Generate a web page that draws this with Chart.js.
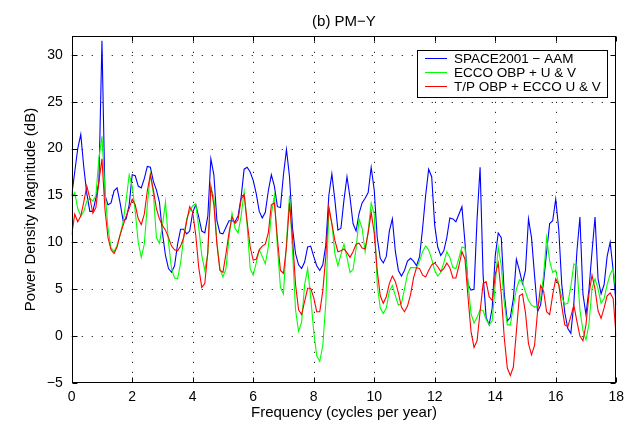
<!DOCTYPE html>
<html>
<head>
<meta charset="utf-8">
<script src="https://cdn.jsdelivr.net/npm/chart.js@4.4.0/dist/chart.umd.min.js"></script>
<style>
  html, body { margin: 0; padding: 0; background: #fff; }
</style>
</head>
<body>
<canvas id="psd" width="630" height="436"></canvas>
<script>
// frekuensi (cycles per year), langkah 0.1
const freq = [
  0.0, 0.1, 0.2, 0.3, 0.4, 0.5, 0.6, 0.7, 0.8, 0.9,
  1.0, 1.1, 1.2, 1.3, 1.4, 1.5, 1.6, 1.7, 1.8, 1.9,
  2.0, 2.1, 2.2, 2.3, 2.4, 2.5, 2.6, 2.7, 2.8, 2.9,
  3.0, 3.1, 3.2, 3.3, 3.4, 3.5, 3.6, 3.7, 3.8, 3.9,
  4.0, 4.1, 4.2, 4.3, 4.4, 4.5, 4.6, 4.7, 4.8, 4.9,
  5.0, 5.1, 5.2, 5.3, 5.4, 5.5, 5.6, 5.7, 5.8, 5.9,
  6.0, 6.1, 6.2, 6.3, 6.4, 6.5, 6.6, 6.7, 6.8, 6.9,
  7.0, 7.1, 7.2, 7.3, 7.4, 7.5, 7.6, 7.7, 7.8, 7.9,
  8.0, 8.1, 8.2, 8.3, 8.4, 8.5, 8.6, 8.7, 8.8, 8.9,
  9.0, 9.1, 9.2, 9.3, 9.4, 9.5, 9.6, 9.7, 9.8, 9.9,
  10.0, 10.1, 10.2, 10.3, 10.4, 10.5, 10.6, 10.7, 10.8, 10.9,
  11.0, 11.1, 11.2, 11.3, 11.4, 11.5, 11.6, 11.7, 11.8, 11.9,
  12.0, 12.1, 12.2, 12.3, 12.4, 12.5, 12.6, 12.7, 12.8, 12.9,
  13.0, 13.1, 13.2, 13.3, 13.4, 13.5, 13.6, 13.7, 13.8, 13.9,
  14.0, 14.1, 14.2, 14.3, 14.4, 14.5, 14.6, 14.7, 14.8, 14.9,
  15.0, 15.1, 15.2, 15.3, 15.4, 15.5, 15.6, 15.7, 15.8, 15.9,
  16.0, 16.1, 16.2, 16.3, 16.4, 16.5, 16.6, 16.7, 16.8, 16.9,
  17.0, 17.1, 17.2, 17.3, 17.4, 17.5, 17.6, 17.7, 17.8, 17.9,
  18.0
];

// SPACE2001 - AAM (dB)
const space2001 = [
  15, 17.5, 20, 21.5, 18, 15.2, 13.3, 13.3, 14.7, 16.5,
  31.5, 15, 14, 14.2, 15.5, 15.8, 14.2, 12.3, 12.5, 14,
  17.2, 17.1, 16, 15.8, 16.8, 18.1, 18, 16.5, 15.6, 14.3,
  11, 8.6, 7.2, 6.8, 7.5, 9.8, 11.4, 11.4, 10.9, 11.2,
  13.2, 14, 12.7, 11.2, 11, 12.8, 18.9, 17.2, 12.3, 11,
  10.9, 11.6, 12.3, 12.3, 12.2, 12.8, 14.8, 17.8, 18, 17.5,
  16.6, 15.2, 13.3, 12.6, 13.2, 15.5, 17.2, 16, 13.8, 13.7,
  17.2, 19.9, 17, 11.5, 8.8, 7.6, 7.2, 7.9, 9.5, 9.6,
  8.5, 7.5, 7, 7.6, 9.7, 15, 17.3, 14.5, 11.3, 11.5,
  14.5, 17, 14.8, 12, 11.2, 13.1, 14.2, 14.7, 15.3, 18,
  15.6, 10.5, 8.3, 7.8, 8.5, 11.2, 12.5, 9, 7, 6.4,
  7, 8, 8.3, 8, 7.5, 8.5, 11.5, 15, 17.8, 17,
  11.8, 9.5, 8.6, 9.1, 10.5, 12.6, 12.5, 12.2, 13, 13.8,
  10, 5.5, 4.9, 5, 12.5, 18, 6.5, 2, 1.2, 3,
  8.5, 11, 10.5, 4.5, 1.6, 2, 4, 8.2, 7, 5.6,
  7, 12.5, 10.5, 6.5, 2.6, 3.3, 5.8, 9, 12, 12.3,
  14.6, 11.4, 5.5, 2.5, 0.8, 0.3, 3.5, 9, 12.7, 4.5,
  2.3, 5, 9, 12.7, 6.1, 4.5, 5.5, 8.5, 10, 7,
  3.3
];

// ECCO OBP + U & V (dB)
const eccoObp = [
  14.7, 15.3, 13.6, 12.8, 13.3, 14.4, 14.7, 14.4, 15, 19,
  21.3, 15.5, 11.5, 9.4, 9, 9.7, 10.8, 12.2, 14.5, 17.2,
  16, 13.3, 10, 8.4, 9.8, 14, 17.3, 15.2, 10.5, 9.9,
  11.8, 14.3, 10, 7.2, 6.2, 6.1, 7.8, 10.5, 12.5, 13.3,
  13.9, 14.1, 11.6, 8.6, 7, 8.8, 15.8, 14.8, 10, 7.2,
  6.3, 7.2, 10.5, 13.1, 11.5, 11, 12.8, 15.4, 11.8, 7.2,
  6.5, 7.8, 9.2, 8.5, 7.7, 9.5, 13, 15, 9.5, 5.2,
  4.5, 10, 15, 9, 2.8, 0.5, 1.5, 5.5, 7.2, 4.2,
  0.5, -2.1, -2.7, -1, 3.5, 13.5, 12, 8.8, 7.5, 8.7,
  9.8, 8.4, 6.8, 7.1, 9.3, 12.5, 11.5, 9, 11.2, 14.2,
  13, 5.5, 3, 2.4, 3, 4.8, 5.4, 4.3, 3.3, 3.5,
  5, 6.6, 7.3, 7.3, 7.3, 8, 9, 9.6, 9.2, 8.2,
  7, 6.4, 6.8, 7.8, 9, 8.4, 7.3, 7.2, 8.3, 9.5,
  9.4, 5.8, 2.4, 1.4, 2, 2.8, 2.7, 1.8, 1.2, 1.6,
  5.5, 9.5, 7.5, 3.5, 1.2, 1.2, 3.2, 5, 6, 5.8,
  4.7, 3.8, 3.3, 3.1, 3.2, 4, 6.5, 10.5, 8, 6.8,
  7, 5.5, 4.2, 3.4, 3.5, 5.3, 7.7, 7.5, 2.8, 0.6,
  -0.4, 1.3, 5.1, 6.1, 5, 3.5, 4, 5.5, 6.6, 7.2,
  4.5
];

// T/P OBP + ECCO U & V (dB)
const tpObp = [
  10.8, 13, 12.2, 12.8, 14.3, 16, 14.7, 13.1, 13.7, 16.5,
  18.9, 13.5, 10.5, 9.2, 8.8, 9.5, 10.8, 11.8, 12.8, 13.6,
  14.6, 14, 12.5, 11.9, 13, 15.5, 17.2, 15.6, 13.6, 12.5,
  11.8, 11.3, 10.5, 9.6, 9.2, 9.1, 9.6, 10.5, 12.2, 13.8,
  13.2, 10.8, 7.3, 5.2, 5.6, 9, 16, 14, 9.8, 7,
  6.8, 8.8, 11, 12.7, 12, 12.4, 14.6, 15.1, 12.2, 9.5,
  8.1, 8.2, 9.2, 9.6, 9.8, 11, 14, 14.2, 10.4, 7,
  6.7, 9.5, 14.2, 10.5, 5.5, 2.8, 2.3, 3.7, 5.1, 5.1,
  4.1, 2.6, 2.6, 4.8, 8.5, 13.8, 12, 10.2, 9, 9.1,
  9.3, 8.9, 8.4, 9, 9.8, 9.9, 9.4, 9.3, 11, 13.2,
  11, 7, 4.3, 3.5, 4.2, 5.6, 6.4, 5.8, 4.6, 3.1,
  2.6, 3.2, 4.4, 6.2, 7.3, 7.2, 6.5, 6.3, 7, 7.6,
  7.8, 7.4, 6.9, 7.2, 7.8, 7.3, 6.2, 6.2, 7.5, 9,
  8.2, 4.2, 0.5, -1.2, -0.5, 2.6, 5.6, 5.8, 4.2, 3.8,
  6.5, 7.8, 4.5, -0.2, -3.4, -4.2, -3.3, 0.5, 4.3, 4.5,
  2.5, -0.8, -2, -1, 2.6, 5.4, 4.8, 2.6, 2.3, 4.4,
  6.1, 5.5, 3.2, 1.2, 1, 2.1, 3.3, 1.6, 0, -0.5,
  1.2, 4.5, 6.5, 5, 2.7, 1.9, 3, 4.3, 4.6, 4,
  -0.1
];

const xTicks = [0, 2, 4, 6, 8, 10, 12, 14, 16, 18];
const yTicks = [-5, 0, 5, 10, 15, 20, 25, 30];

const FONT = '"Liberation Sans", Arial, Helvetica, sans-serif';

// gaya MATLAB: grid titik-titik, kotak sumbu, tick ke dalam, legenda kotak
const matlabAxes = {
    id: 'matlabAxes',
    beforeDatasetsDraw(chart) {
        const { ctx, chartArea: a, scales: { x, y } } = chart;
        ctx.save();
        ctx.strokeStyle = '#222';
        ctx.lineWidth = 1;
        ctx.setLineDash([1.2, 8.8]);
        xTicks.slice(1, -1).forEach(v => {
            const px = Math.round(x.getPixelForValue(v)) + 0.5;
            ctx.beginPath(); ctx.moveTo(px, a.bottom); ctx.lineTo(px, a.top); ctx.stroke();
        });
        yTicks.slice(1).forEach(v => {
            const py = Math.round(y.getPixelForValue(v)) + 0.5;
            ctx.beginPath(); ctx.moveTo(a.left, py); ctx.lineTo(a.right, py); ctx.stroke();
        });
        ctx.restore();
    },
    afterDatasetsDraw(chart) {
        const { ctx, chartArea: a, scales: { x, y } } = chart;
        ctx.save();
        ctx.strokeStyle = '#000';
        ctx.lineWidth = 1;
        const L = Math.round(a.left) + 0.5, R = Math.round(a.right) - 0.5;
        const T = Math.round(a.top) + 0.5, B = Math.round(a.bottom) - 0.5;
        ctx.strokeRect(L, T, R - L, B - T);

        // tick ke dalam di empat sisi
        const tl = 5;
        ctx.beginPath();
        xTicks.forEach(v => {
            const px = Math.round(x.getPixelForValue(v)) + 0.5;
            ctx.moveTo(px, B); ctx.lineTo(px, B - tl);
            ctx.moveTo(px, T); ctx.lineTo(px, T + tl);
        });
        yTicks.forEach(v => {
            const py = Math.round(y.getPixelForValue(v)) + 0.5;
            ctx.moveTo(L, py); ctx.lineTo(L + tl, py);
            ctx.moveTo(R, py); ctx.lineTo(R - tl, py);
        });
        ctx.stroke();

        // legenda
        const bx = 417.5, by = 50.5, bw = 190, bh = 47;
        ctx.fillStyle = '#fff';
        ctx.fillRect(bx, by, bw, bh);
        ctx.strokeRect(bx, by, bw, bh);
        ctx.font = '13.5px ' + FONT;
        ctx.textBaseline = 'middle';
        ctx.textAlign = 'left';
        chart.data.datasets.forEach((ds, i) => {
            const ly = 58.5 + i * 14;
            ctx.strokeStyle = ds.borderColor;
            ctx.beginPath(); ctx.moveTo(425, ly); ctx.lineTo(447, ly); ctx.stroke();
            ctx.fillStyle = '#000';
            ctx.fillText(ds.label, 454, ly + 0.5);
        });
        ctx.restore();
    }
};

const toXY = vals => freq.map((f, i) => ({ x: f, y: vals[i] }));

new Chart(document.getElementById('psd'), {
    type: 'line',
    data: {
        datasets: [
            { label: 'SPACE2001 \u2212 AAM', data: toXY(space2001), borderColor: '#0000ff', order: 2 },
            { label: 'ECCO OBP + U & V', data: toXY(eccoObp), borderColor: '#00ff00', order: 1 },
            { label: 'T/P OBP + ECCO U & V', data: toXY(tpObp), borderColor: '#ff0000', order: 0 }
        ]
    },
    options: {
        responsive: false,
        animation: false,
        devicePixelRatio: 1,
        elements: {
            line: { borderWidth: 1.1, tension: 0, fill: false },
            point: { radius: 0 }
        },
        layout: { padding: { left: 0, right: 10.5, top: 0, bottom: 0 } },
        plugins: {
            legend: { display: false },
            tooltip: { enabled: false },
            title: {
                display: true,
                text: '(b) PM\u2212Y',
                fullSize: false,
                color: '#000',
                font: { family: FONT, size: 15, weight: 'normal' },
                padding: { top: 13, bottom: 5 }
            }
        },
        scales: {
            x: {
                type: 'linear',
                min: 0,
                max: 18,
                afterFit: s => { s.height = 53; },
                afterBuildTicks: s => { s.ticks = xTicks.map(v => ({ value: v })); },
                grid: { display: false, drawTicks: false },
                border: { display: false },
                ticks: { color: '#000', font: { family: FONT, size: 14 }, padding: 6, autoSkip: false, maxRotation: 0 },
                title: {
                    display: true,
                    text: 'Frequency (cycles per year)',
                    color: '#000',
                    font: { family: FONT, size: 15 },
                    padding: { top: 0, bottom: 14 }
                }
            },
            y: {
                type: 'linear',
                min: -5,
                max: 32,
                afterFit: s => { s.width = 71.7; },
                afterBuildTicks: s => { s.ticks = yTicks.map(v => ({ value: v })); },
                grid: { display: false, drawTicks: false },
                border: { display: false },
                ticks: {
                    color: '#000',
                    font: { family: FONT, size: 14 },
                    padding: 9,
                    callback: v => String(v).replace('-', '\u2212')
                },
                title: {
                    display: true,
                    text: 'Power Density Magnitude (dB)',
                    color: '#000',
                    font: { family: FONT, size: 15 },
                    padding: { top: 22, bottom: 0 }
                }
            }
        }
    },
    plugins: [matlabAxes]
});
</script>
</body>
</html>
